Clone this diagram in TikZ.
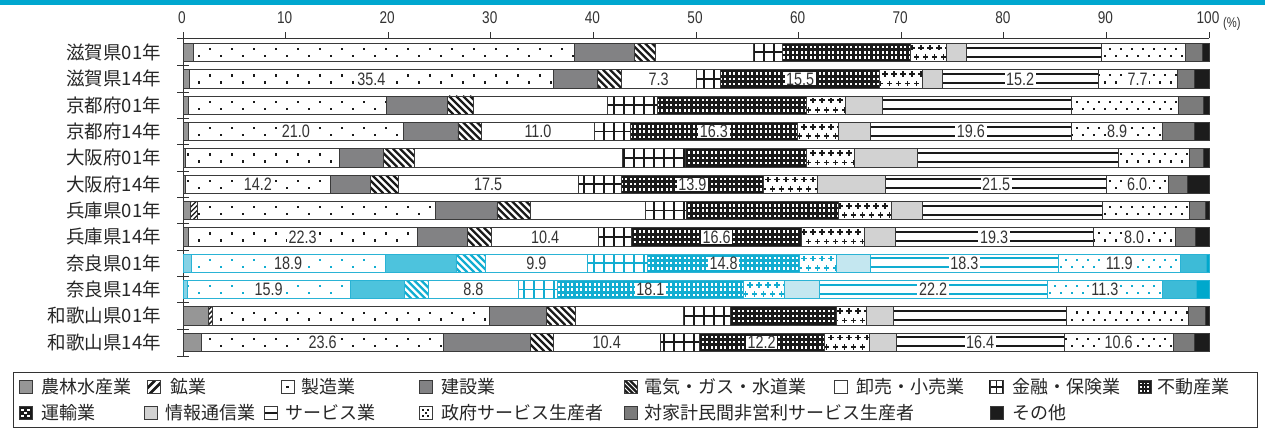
\documentclass[tikz,border=0pt]{standalone}
\usepackage{fontspec}
\setmainfont{Noto Sans CJK JP}
\newfontfamily\cjk{Noto Sans CJK JP}
\newfontfamily\numf[FakeStretch=0.8]{Liberation Sans}
\definecolor{topc}{HTML}{00A7CF}
\definecolor{axc}{HTML}{333333}
\definecolor{kag}{HTML}{969696}
\definecolor{kcons}{HTML}{828284}
\definecolor{kinfo}{HTML}{D2D2D2}
\definecolor{knpo}{HTML}{7B7B7B}
\definecolor{koth}{HTML}{1C1C1C}
\definecolor{kpc}{HTML}{1A1A1A}
\definecolor{kbc}{HTML}{3A3A3A}
\definecolor{bag}{HTML}{86D2E5}
\definecolor{bcons}{HTML}{4DC3DD}
\definecolor{binfo}{HTML}{C4E7F0}
\definecolor{bnpo}{HTML}{3DBBD7}
\definecolor{both}{HTML}{00A8CC}
\definecolor{bpc}{HTML}{12ADD1}
\definecolor{bbc}{HTML}{2AB3D5}
\newcommand\blackset{\colorlet{cag}{kag}\colorlet{ccons}{kcons}\colorlet{cinfo}{kinfo}\colorlet{cnpo}{knpo}\colorlet{coth}{koth}\colorlet{pc}{kpc}\colorlet{bc}{kbc}}
\newcommand\blueset{\colorlet{cag}{bag}\colorlet{ccons}{bcons}\colorlet{cinfo}{binfo}\colorlet{cnpo}{bnpo}\colorlet{coth}{both}\colorlet{pc}{bpc}\colorlet{bc}{bbc}}
% ---------- bar segment patterns ----------
\newcommand\patsolid[1]{\fill[#1] (\sga,\sgT) rectangle (\sgb,\sgB);}
\newcommand\patag{\patsolid{cag}}
\newcommand\patcons{\patsolid{ccons}}
\newcommand\patinfo{\patsolid{cinfo}}
\newcommand\patnpo{\patsolid{cnpo}}
\newcommand\patoth{\patsolid{coth}}
\newcommand\patwhole{\patsolid{white}}
\newcommand\patmine{%
 \begin{scope}\clip (\sga,\sgT) rectangle (\sgb,\sgB);
 \fill[white] (\sga,\sgT) rectangle (\sgb,\sgB);
 \pgfmathtruncatemacro\ka{floor((\sga-183)/5)-5}
 \pgfmathtruncatemacro\kb{ceil((\sgb-183)/5)+1}
 \foreach \k in {\ka,...,\kb}{\draw[pc,line width=1.4pt] ({183+5*\k},\sgB) -- ++(18.4,-18.4);}
 \end{scope}}
\newcommand\patelec{%
 \begin{scope}\clip (\sga,\sgT) rectangle (\sgb,\sgB);
 \fill[white] (\sga,\sgT) rectangle (\sgb,\sgB);
 \pgfmathtruncatemacro\ka{floor((\sga-183)/7)-4}
 \pgfmathtruncatemacro\kb{ceil((\sgb-183)/7)+1}
 \foreach \k in {\ka,...,\kb}{\draw[pc,line width=2.3pt] ({183+7*\k},\sgT) -- ++(18.4,18.4);}
 \end{scope}}
\newcommand\patmfg{%
 \begin{scope}\clip (\sga,\sgT) rectangle (\sgb,\sgB);
 \fill[white] (\sga,\sgT) rectangle (\sgb,\sgB);
 \pgfmathtruncatemacro\ka{floor((\sga-183)/22)-1}
 \pgfmathtruncatemacro\kb{ceil((\sgb-183)/22)}
 \foreach \k in {\ka,...,\kb}{%
   \fill[pc] ({183+22*\k+4},\sgT+4.8) rectangle ++(2.3,2.3);
   \fill[pc] ({183+22*\k+15},\sgT+11.6) rectangle ++(2.3,2.3);}
 \end{scope}}
\newcommand\patgov{%
 \begin{scope}\clip (\sga,\sgT) rectangle (\sgb,\sgB);
 \fill[white] (\sga,\sgT) rectangle (\sgb,\sgB);
 \pgfmathtruncatemacro\ka{floor((\sga-183)/11)-1}
 \pgfmathtruncatemacro\kb{ceil((\sgb-183)/11)}
 \foreach \k in {\ka,...,\kb}{%
   \fill[pc] ({183+11*\k+2},\sgT+4.6) rectangle ++(2.2,2.2);
   \fill[pc] ({183+11*\k+7.5},\sgT+11.8) rectangle ++(2.2,2.2);}
 \end{scope}}
\newcommand\patfin{%
 \begin{scope}\clip (\sga,\sgT) rectangle (\sgb,\sgB);
 \fill[white] (\sga,\sgT) rectangle (\sgb,\sgB);
 \pgfmathtruncatemacro\ka{floor((\sga-183)/10)}
 \pgfmathtruncatemacro\kb{ceil((\sgb-183)/10)}
 \foreach \k in {\ka,...,\kb}{\fill[pc] ({183+10*\k},\sgT) rectangle ++(1.8,18.4);}
 \fill[pc] (\sga,\sgT+8.2) rectangle (\sgb,\sgT+10);
 \end{scope}}
\newcommand\patre{%
 \begin{scope}\clip (\sga,\sgT) rectangle (\sgb,\sgB);
 \fill[pc] (\sga,\sgT) rectangle (\sgb,\sgB);
 \pgfmathtruncatemacro\ka{floor((\sga-183)/4.5)-1}
 \pgfmathtruncatemacro\kb{ceil((\sgb-183)/4.5)}
 \foreach \k in {\ka,...,\kb}{%
   \pgfmathsetmacro\xx{183+4.5*\k+1}
   \fill[white] (\xx,\sgT+2.8) rectangle ++(2.4,2.4);
   \fill[white] (\xx,\sgT+8) rectangle ++(2.4,2.4);
   \fill[white] (\xx,\sgT+13.2) rectangle ++(2.4,2.4);}
 \end{scope}}
\newcommand\plusat[2]{\fill[pc] (#1-2.8,#2-0.9) rectangle ++(5.6,1.8); \fill[pc] (#1-0.9,#2-2.8) rectangle ++(1.8,5.6);}
\newcommand\pattrans{%
 \begin{scope}\clip (\sga,\sgT) rectangle (\sgb,\sgB);
 \fill[white] (\sga,\sgT) rectangle (\sgb,\sgB);
 \pgfmathtruncatemacro\ka{floor((\sga-183)/9)-1}
 \pgfmathtruncatemacro\kb{ceil((\sgb-183)/9)}
 \foreach \k in {\ka,...,\kb}{%
   \pgfmathsetmacro\xx{183+9*\k}
   \plusat{\xx}{\sgT+4.4}
   \plusat{\xx+4.5}{\sgT+13.8}}
 \end{scope}}
\newcommand\patserv{%
 \fill[white] (\sga,\sgT) rectangle (\sgb,\sgB);
 \fill[pc] (\sga,\sgT+3.4) rectangle (\sgb,\sgT+5.4);
 \fill[pc] (\sga,\sgT+12.4) rectangle (\sgb,\sgT+14.4);}
\newcommand\seg[4]{%
 \pgfmathsetmacro\sgT{43.3+26.34*#1}%
 \pgfmathsetmacro\sgB{\sgT+18.4}%
 \pgfmathsetmacro\sga{183+10.26*#2}%
 \pgfmathsetmacro\sgb{183+10.26*#3}%
 \csname pat#4\endcsname
 \draw[bc,line width=0.8pt] (\sga,\sgT) rectangle (\sgb,\sgB);}
\newcommand\drawbar[2]{%
 \gdef\segstart{0}%
 \foreach \ty/\en in {#2}{\seg{#1}{\segstart}{\en}{\ty}\xdef\segstart{\en}}}
\newcommand\vl[5]{%
 \pgfmathsetmacro\lbx{183+10.26*(#3+#4)/2}%
 \pgfmathsetmacro\lby{43.3+26.34*#2+9.3}%
 \node[vlab] (#1) at (\lbx,\lby) {#5};}
% ---------- legend swatches ----------
\newcommand\lsw[3]{\def\lx{#1}\pgfmathsetmacro\lt{#2-6.5}\csname lsw#3\endcsname
 \draw[kbc,line width=0.9pt] (\lx,\lt) rectangle ++(13,13);}
\newcommand\lswag{\fill[kag] (\lx,\lt) rectangle ++(13,13);}
\newcommand\lswcons{\fill[kcons] (\lx,\lt) rectangle ++(13,13);}
\newcommand\lswinfo{\fill[kinfo] (\lx,\lt) rectangle ++(13,13);}
\newcommand\lswnpo{\fill[knpo] (\lx,\lt) rectangle ++(13,13);}
\newcommand\lswoth{\fill[koth] (\lx,\lt) rectangle ++(13,13);}
\newcommand\lswwhole{}
\newcommand\lswmine{\begin{scope}\clip (\lx,\lt) rectangle ++(13,13);
 \foreach \d in {-5,3}{\draw[kpc,line width=2.6pt] (\lx+\d,\lt+13) -- ++(13,-13);}\end{scope}}
\newcommand\lswelec{\begin{scope}\clip (\lx,\lt) rectangle ++(13,13);
 \foreach \d in {-9,-4,1,6}{\draw[kpc,line width=2.2pt] (\lx+\d,\lt) -- ++(13,13);}\end{scope}}
\newcommand\lswmfg{\fill[kpc] (\lx+5.4,\lt+5.4) rectangle ++(2.2,2.2);}
\newcommand\lswfin{\draw[kpc,line width=1.8pt] (\lx+6.5,\lt) -- ++(0,13) (\lx,\lt+6.5) -- ++(13,0);
 \draw[kpc,line width=1.8pt] (\lx,\lt) rectangle ++(13,13);}
\newcommand\lswre{\fill[kpc] (\lx,\lt) rectangle ++(13,13);
 \foreach \i in {0,1,2}{\foreach \j in {0,1,2}{\fill[white] (\lx+2+3.6*\i,\lt+2+3.6*\j) rectangle ++(1.8,1.8);}}}
\newcommand\lswtrans{\fill[kpc] (\lx,\lt) rectangle ++(13,13);
 \foreach \i/\j in {2.2/2.2,8.4/2.2,5.3/5.3,2.2/8.4,8.4/8.4}{\fill[white] (\lx+\i,\lt+\j) rectangle ++(2.4,2.4);}}
\newcommand\lswserv{\fill[kpc] (\lx,\lt+5.5) rectangle ++(13,2.2);}
\newcommand\lswgov{\foreach \i/\j in {2.8/2.8,8.2/2.8,5.5/5.5,2.8/8.2,8.2/8.2}{\fill[kpc] (\lx+\i,\lt+\j) rectangle ++(2,2);}}
\tikzset{
 vlab/.style={fill=white, inner xsep=1.6pt, inner ysep=0.2pt, text=axc, font=\numf\fontsize{18}{18}\selectfont},
 rlab/.style={anchor=east, inner sep=0pt, text=black!85, font=\cjk\fontsize{18.5}{18.5}\selectfont},
 ltxt/.style={anchor=west, inner sep=0pt, text=black!85, font=\cjk\fontsize{18}{18}\selectfont},
 tlab/.style={inner sep=0pt, text=axc, font=\numf\fontsize{17}{17}\selectfont},
 axline/.style={draw=axc, line width=0.8pt}
}
\begin{document}
\begin{tikzpicture}[x=1pt,y=-1pt]
\useasboundingbox (0,0) rectangle (1265,428);
\fill[white] (0,0) rectangle (1265,428);
\fill[topc] (0,0) rectangle (1265,4.6);
% axis labels
\foreach \k in {0,...,10}{%
  \pgfmathtruncatemacro\val{10*\k}
  \node[tlab] (t\k) at ({182+102.6*\k},18) {\val};
  \draw[axline] ({183+102.6*\k},32.5) -- ({183+102.6*\k},38.5);}
\node[tlab, font=\numf\fontsize{14}{14}\selectfont, anchor=west] (pct) at (1223,23.5) {(\%)};
\draw[axline] (177,38.5) -- (1209,38.5);
\draw[axline] (183,32.5) -- (183,356.5);
\foreach \r in {1,...,11}{\draw[axline] (177,{43.3+26.34*\r-4}) -- (189,{43.3+26.34*\r-4});}
\draw[axline] (177,356.5) -- (189,356.5);
% row labels
\foreach \r/\lab in {0/滋賀県01年,1/滋賀県14年,2/京都府01年,3/京都府14年,4/大阪府01年,5/大阪府14年,6/兵庫県01年,7/兵庫県14年,8/奈良県01年,9/奈良県14年,10/和歌山県01年,11/和歌山県14年}{%
  \node[rlab] (rl\r) at (161,{52.5+26.34*\r}) {\lab};}
% bars
\blackset
\drawbar{0}{ag/1.0,mfg/38.1,cons/44.0,elec/46.0,whole/55.6,fin/58.4,re/70.9,trans/74.4,info/76.4,serv/89.5,gov/97.7,npo/99.4,oth/100}
\drawbar{1}{ag/0.6,mfg/36.1,cons/40.4,elec/42.7,whole/50.0,fin/52.4,re/67.9,trans/72.1,info/74.0,serv/89.2,gov/96.9,npo/98.6,oth/100}
\drawbar{2}{ag/0.5,mfg/19.8,cons/25.8,elec/28.3,whole/41.4,fin/46.2,re/60.8,trans/64.6,info/68.2,serv/86.6,gov/97.0,npo/99.5,oth/100}
\drawbar{3}{ag/0.5,mfg/21.5,cons/26.8,elec/29.1,whole/40.1,fin/43.6,re/59.9,trans/63.9,info/67.0,serv/86.6,gov/95.5,npo/98.6,oth/100}
\drawbar{4}{ag/0.2,mfg/15.2,cons/19.5,elec/22.6,whole/42.8,fin/49.0,re/60.8,trans/65.4,info/71.6,serv/91.2,gov/98.1,npo/99.5,oth/100}
\drawbar{5}{ag/0.2,mfg/14.4,cons/18.3,elec/21.0,whole/38.5,fin/42.7,re/56.6,trans/61.8,info/68.5,serv/90.0,gov/96.0,npo/97.9,oth/100}
\drawbar{6}{ag/0.7,mine/1.4,mfg/24.6,cons/30.6,elec/33.9,whole/45.1,fin/49.1,re/63.9,trans/69.0,info/72.1,serv/89.6,gov/98.1,npo/99.6,oth/100}
\drawbar{7}{ag/0.5,mfg/22.8,cons/27.7,elec/30.1,whole/40.5,fin/43.7,re/60.3,trans/66.4,info/69.4,serv/88.7,gov/96.7,npo/98.7,oth/100}
\blueset
\drawbar{8}{ag/0.8,mfg/19.7,cons/26.6,elec/29.5,whole/39.4,fin/45.3,re/60.1,trans/63.7,info/67.0,serv/85.3,gov/97.2,npo/99.7,oth/100}
\drawbar{9}{ag/0.4,mfg/16.3,cons/21.6,elec/23.9,whole/32.7,fin/36.5,re/54.6,trans/58.6,info/62.0,serv/84.2,gov/95.5,npo/98.8,oth/100}
\blackset
\drawbar{10}{ag/2.5,mine/2.9,mfg/29.9,cons/35.4,elec/38.2,whole/48.8,fin/53.4,re/63.7,trans/66.6,info/69.2,serv/86.1,gov/98.0,npo/99.6,oth/100}
\drawbar{11}{ag/1.8,mfg/25.4,cons/33.9,elec/36.1,whole/46.5,fin/50.3,re/62.5,trans/66.9,info/69.5,serv/85.9,gov/96.5,npo/98.6,oth/100}
% value labels
\vl{v1a}{1}{0.6}{36.1}{35.4}\vl{v1b}{1}{42.7}{50.0}{7.3}\vl{v1c}{1}{52.4}{67.9}{15.5}\vl{v1d}{1}{74.0}{89.2}{15.2}\vl{v1e}{1}{89.2}{96.9}{7.7}
\vl{v3a}{3}{0.5}{21.5}{21.0}\vl{v3b}{3}{29.1}{40.1}{11.0}\vl{v3c}{3}{43.6}{59.9}{16.3}\vl{v3d}{3}{67.0}{86.6}{19.6}\vl{v3e}{3}{86.6}{95.5}{8.9}
\vl{v5a}{5}{0.2}{14.4}{14.2}\vl{v5b}{5}{21.0}{38.5}{17.5}\vl{v5c}{5}{42.7}{56.6}{13.9}\vl{v5d}{5}{68.5}{90.0}{21.5}\vl{v5e}{5}{90.0}{96.0}{6.0}
\vl{v7a}{7}{0.5}{22.8}{22.3}\vl{v7b}{7}{30.1}{40.5}{10.4}\vl{v7c}{7}{43.7}{60.3}{16.6}\vl{v7d}{7}{69.4}{88.7}{19.3}\vl{v7e}{7}{88.7}{96.7}{8.0}
\vl{v8a}{8}{0.8}{19.7}{18.9}\vl{v8b}{8}{29.5}{39.4}{9.9}\vl{v8c}{8}{45.3}{60.1}{14.8}\vl{v8d}{8}{67.0}{85.3}{18.3}\vl{v8e}{8}{85.3}{97.2}{11.9}
\vl{v9a}{9}{0.4}{16.3}{15.9}\vl{v9b}{9}{23.9}{32.7}{8.8}\vl{v9c}{9}{36.5}{54.6}{18.1}\vl{v9d}{9}{62.0}{84.2}{22.2}\vl{v9e}{9}{84.2}{95.5}{11.3}
\vl{v11a}{11}{1.8}{25.4}{23.6}\vl{v11b}{11}{36.1}{46.5}{10.4}\vl{v11c}{11}{50.3}{62.5}{12.2}\vl{v11d}{11}{69.5}{85.9}{16.4}\vl{v11e}{11}{85.9}{96.5}{10.6}
% legend
\draw[draw=axc, line width=0.8pt] (13,372) rectangle (1257,427.4);
\lsw{19}{387}{ag}\node[ltxt] (g1) at (41,387) {農林水産業};
\lsw{147}{387}{mine}\node[ltxt] (g2) at (170,387) {鉱業};
\lsw{281}{387}{mfg}\node[ltxt] (g3) at (301,387) {製造業};
\lsw{419}{387}{cons}\node[ltxt] (g4) at (441,387) {建設業};
\lsw{624}{387}{elec}\node[ltxt] (g5) at (644,387) {電気・ガス・水道業};
\lsw{834}{387}{whole}\node[ltxt] (g6) at (856,387) {卸売・小売業};
\lsw{990}{387}{fin}\node[ltxt] (g7) at (1012,387) {金融・保険業};
\lsw{1138}{387}{re}\node[ltxt] (g8) at (1157,387) {不動産業};
\lsw{19}{413}{trans}\node[ltxt] (g9) at (41,413) {運輸業};
\lsw{144}{413}{info}\node[ltxt] (g10) at (165,413) {情報通信業};
\lsw{264}{413}{serv}\node[ltxt] (g11) at (285,413) {サービス業};
\lsw{419}{413}{gov}\node[ltxt] (g12) at (441,413) {政府サービス生産者};
\lsw{624}{413}{npo}\node[ltxt] (g13) at (644,413) {対家計民間非営利サービス生産者};
\lsw{990}{413}{oth}\node[ltxt] (g14) at (1012,413) {その他};
\end{tikzpicture}
\end{document}
